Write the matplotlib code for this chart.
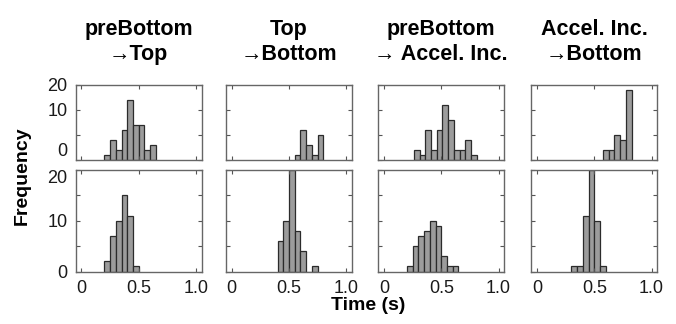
import numpy as np
import matplotlib.pyplot as plt

plt.rcParams['font.family'] = ['Liberation Sans', 'DejaVu Sans']

# panel titles (columns)
titles = ['preBottom\n\u2192Top', 'Top\n\u2192Bottom',
          'preBottom\n\u2192 Accel. Inc.', 'Accel. Inc.\n\u2192Bottom']

bin_width = 0.05

# top row: first bin edge and counts per panel
top_starts = [0.20, 0.55, 0.26, 0.575]
top_counts = [
    [1, 4, 2, 6, 12, 7, 7, 2, 3],
    [1, 6, 3, 1, 5],
    [2, 1, 6, 2, 6, 11, 8, 2, 2, 4, 1],
    [2, 2, 5, 4, 14],
]

# bottom row
bot_starts = [0.20, 0.40, 0.20, 0.30]
bot_counts = [
    [2, 7, 10, 15, 11, 1],
    [6, 10, 20, 8, 4, 0, 1],
    [1, 5, 7, 8, 10, 9, 3, 1, 1],
    [1, 1, 11, 20, 10, 1],
]

W, H = 676, 324
col_left = [75.7, 226, 378.3, 531.3]
ax_w = 126
rows = [(85, 160, 15, top_starts, top_counts),
        (170, 271.5, 20, bot_starts, bot_counts)]

fig = plt.figure(figsize=(W / 100, H / 100), dpi=100)

for r, (ytop, ybot, ymax, starts, counts) in enumerate(rows):
    for c in range(4):
        ax = fig.add_axes([col_left[c] / W, 1 - ybot / H, ax_w / W, (ybot - ytop) / H])
        x = starts[c] + bin_width * np.arange(len(counts[c]))
        ax.bar(x, counts[c], width=bin_width, align='edge',
               color='#9c9c9c', edgecolor='#2b2b2b', linewidth=0.9)
        ax.set_xlim(-0.05, 1.05)
        ax.set_ylim(0, ymax)
        ax.set_xticks([0, 0.5, 1.0])
        ax.set_yticks([0, 5, 10, 15, 20][:ymax // 5 + 1])
        if r == 0:
            ax.set_xticklabels([])
            if c == 0:
                ax.set_yticklabels(['0', '', '10', '20'])
                ax.get_yticklabels()[0].set_va('bottom')
        else:
            ax.set_xticklabels(['0', '0.5', '1.0'])
            if c == 0:
                ax.set_yticklabels(['0', '', '10', '', '20'])
                ax.get_yticklabels()[-1].set_va('top')
        if c != 0:
            ax.set_yticklabels([])
        ax.tick_params(direction='in', length=3, width=0.8, color='#555555',
                       top=True, right=True, labelsize=13, pad=6,
                       labelcolor='#1a1a1a')
        for s in ax.spines.values():
            s.set_color('#666666')
            s.set_linewidth(1.0)
        if r == 0:
            ax.set_title(titles[c], fontsize=15.5, fontweight='bold',
                         linespacing=1.25, pad=18)

fig.text(22 / W, 1 - 176 / H, 'Frequency', rotation=90, fontsize=14,
         fontweight='bold', ha='center', va='center')
fig.text(368 / W, 1 - 306 / H, 'Time (s)', fontsize=14,
         fontweight='bold', ha='center', va='center')

fig.savefig('out.png', dpi=100)
